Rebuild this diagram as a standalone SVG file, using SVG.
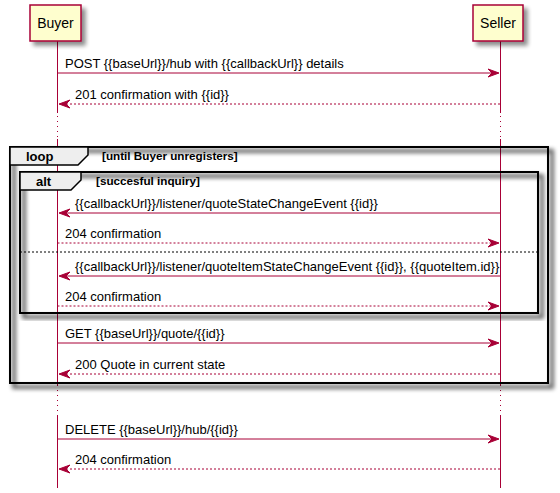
<svg xmlns="http://www.w3.org/2000/svg" width="560" height="493" viewBox="0 0 560 493">
<style>
  .part { fill: #FEFECE; stroke: #A80036; stroke-width: 1.5; }
  .ptxt { font-family: "Liberation Sans", Arial, sans-serif; font-size: 14px; fill: #000; }
  .life { stroke: #A80036; stroke-width: 1; fill: none; }
  .delay { stroke: #A80036; stroke-width: 1; stroke-dasharray: 1,4; fill: none; }
  .msg { stroke: #A80036; stroke-width: 1; fill: none; }
  .ret { stroke: #A80036; stroke-width: 1; stroke-dasharray: 2,2; fill: none; }
  .head { fill: #A80036; stroke: #A80036; stroke-width: 1; }
  .mtxt { font-family: "Liberation Sans", Arial, sans-serif; font-size: 13px; fill: #000; }
  .frame { fill: none; stroke: #000; stroke-width: 2; }
  .tab { fill: #EEEEEE; stroke: #000; stroke-width: 1.5; }
  .ftxt { font-family: "Liberation Sans", Arial, sans-serif; font-size: 13px; font-weight: bold; fill: #000; }
  .ctxt { font-family: "Liberation Sans", Arial, sans-serif; font-size: 11.7px; font-weight: bold; fill: #000; }
  .sep { stroke: #000; stroke-width: 1; stroke-dasharray: 2,2; }
</style>
<defs>
  <filter id="sh" x="-10%" y="-10%" width="130%" height="140%">
    <feGaussianBlur in="SourceAlpha" stdDeviation="2"/>
    <feOffset dx="4" dy="4" result="b"/>
    <feComponentTransfer><feFuncA type="linear" slope="0.45"/></feComponentTransfer>
    <feMerge><feMergeNode/><feMergeNode in="SourceGraphic"/></feMerge>
  </filter>
  <filter id="shf" x="-5%" y="-5%" width="110%" height="110%">
    <feMorphology in="SourceAlpha" operator="dilate" radius="0.8"/>
    <feGaussianBlur stdDeviation="2"/>
    <feOffset dx="4" dy="4"/>
    <feComponentTransfer><feFuncA type="linear" slope="0.6"/></feComponentTransfer>
    <feMerge><feMergeNode/><feMergeNode in="SourceGraphic"/></feMerge>
  </filter>
</defs>

<g id="lifelines">
  <line class="life" x1="57.5" y1="41" x2="57.5" y2="113"/>
  <line class="delay" x1="57.5" y1="116" x2="57.5" y2="138"/>
  <line class="life" x1="57.5" y1="139" x2="57.5" y2="386"/>
  <line class="delay" x1="57.5" y1="390" x2="57.5" y2="412"/>
  <line class="life" x1="57.5" y1="415" x2="57.5" y2="488"/>
  <line class="life" x1="500.5" y1="41" x2="500.5" y2="113"/>
  <line class="delay" x1="500.5" y1="116" x2="500.5" y2="138"/>
  <line class="life" x1="500.5" y1="139" x2="500.5" y2="386"/>
  <line class="delay" x1="500.5" y1="390" x2="500.5" y2="412"/>
  <line class="life" x1="500.5" y1="415" x2="500.5" y2="488"/>
</g>

<g id="Buyer">
  <rect class="part" x="30" y="5" width="51" height="36" filter="url(#sh)"/>
  <text class="ptxt" x="55.5" y="28" text-anchor="middle">Buyer</text>
</g>
<g id="Seller">
  <rect class="part" x="473" y="5" width="50" height="36" filter="url(#sh)"/>
  <text class="ptxt" x="498" y="28" text-anchor="middle">Seller</text>
</g>

<g id="loop">
  <rect class="frame" x="10" y="147" width="538" height="236" filter="url(#shf)"/>
  <polygon class="tab" points="10,147 88,147 88,155 78,165 10,165"/>
  <text class="ftxt" x="26" y="161">loop</text>
  <text class="ctxt" x="102" y="160">[until Buyer unregisters]</text>
</g>
<g id="alt">
  <rect class="frame" x="20" y="172" width="518" height="141" filter="url(#shf)"/>
  <polygon class="tab" points="20,172 81,172 81,180 71,190 20,190"/>
  <text class="ftxt" x="36" y="186">alt</text>
  <text class="ctxt" x="96" y="185">[succesful inquiry]</text>
  <line class="sep" x1="20" y1="252" x2="538" y2="252"/>
</g>

<g id="connectors">
  <line class="msg" x1="57.5" y1="73" x2="498" y2="73"/>
  <polygon class="head" points="488,69 499,73 488,77 492,73"/>
  <text class="mtxt" x="65" y="68">POST {{baseUrl}}/hub with {{callbackUrl}} details</text>

  <line class="ret" x1="62" y1="104" x2="500.5" y2="104"/>
  <polygon class="head" points="70,100 59,104 70,108 66,104"/>
  <text class="mtxt" x="75" y="99">201 confirmation with {{id}}</text>

  <line class="msg" x1="62" y1="213" x2="500.5" y2="213"/>
  <polygon class="head" points="70,209 59,213 70,217 66,213"/>
  <text class="mtxt" x="75" y="208">{{callbackUrl}}/listener/quoteStateChangeEvent {{id}}</text>

  <line class="ret" x1="57.5" y1="243" x2="496" y2="243"/>
  <polygon class="head" points="488,239 499,243 488,247 492,243"/>
  <text class="mtxt" x="65" y="238">204 confirmation</text>

  <line class="msg" x1="62" y1="276" x2="500.5" y2="276"/>
  <polygon class="head" points="70,272 59,276 70,280 66,276"/>
  <text class="mtxt" x="75" y="271">{{callbackUrl}}/listener/quoteItemStateChangeEvent {{id}}, {{quoteItem.id}}</text>

  <line class="ret" x1="57.5" y1="306" x2="496" y2="306"/>
  <polygon class="head" points="488,302 499,306 488,310 492,306"/>
  <text class="mtxt" x="65" y="301">204 confirmation</text>

  <line class="msg" x1="57.5" y1="343" x2="496" y2="343"/>
  <polygon class="head" points="488,339 499,343 488,347 492,343"/>
  <text class="mtxt" x="65" y="338">GET {{baseUrl}}/quote/{{id}}</text>

  <line class="ret" x1="62" y1="374" x2="500.5" y2="374"/>
  <polygon class="head" points="70,370 59,374 70,378 66,374"/>
  <text class="mtxt" x="75" y="369">200 Quote in current state</text>

  <line class="msg" x1="57.5" y1="439" x2="496" y2="439"/>
  <polygon class="head" points="488,435 499,439 488,443 492,439"/>
  <text class="mtxt" x="65" y="434">DELETE {{baseUrl}}/hub/{{id}}</text>

  <line class="ret" x1="62" y1="469" x2="500.5" y2="469"/>
  <polygon class="head" points="70,465 59,469 70,473 66,469"/>
  <text class="mtxt" x="75" y="464">204 confirmation</text>
</g>
</svg>
